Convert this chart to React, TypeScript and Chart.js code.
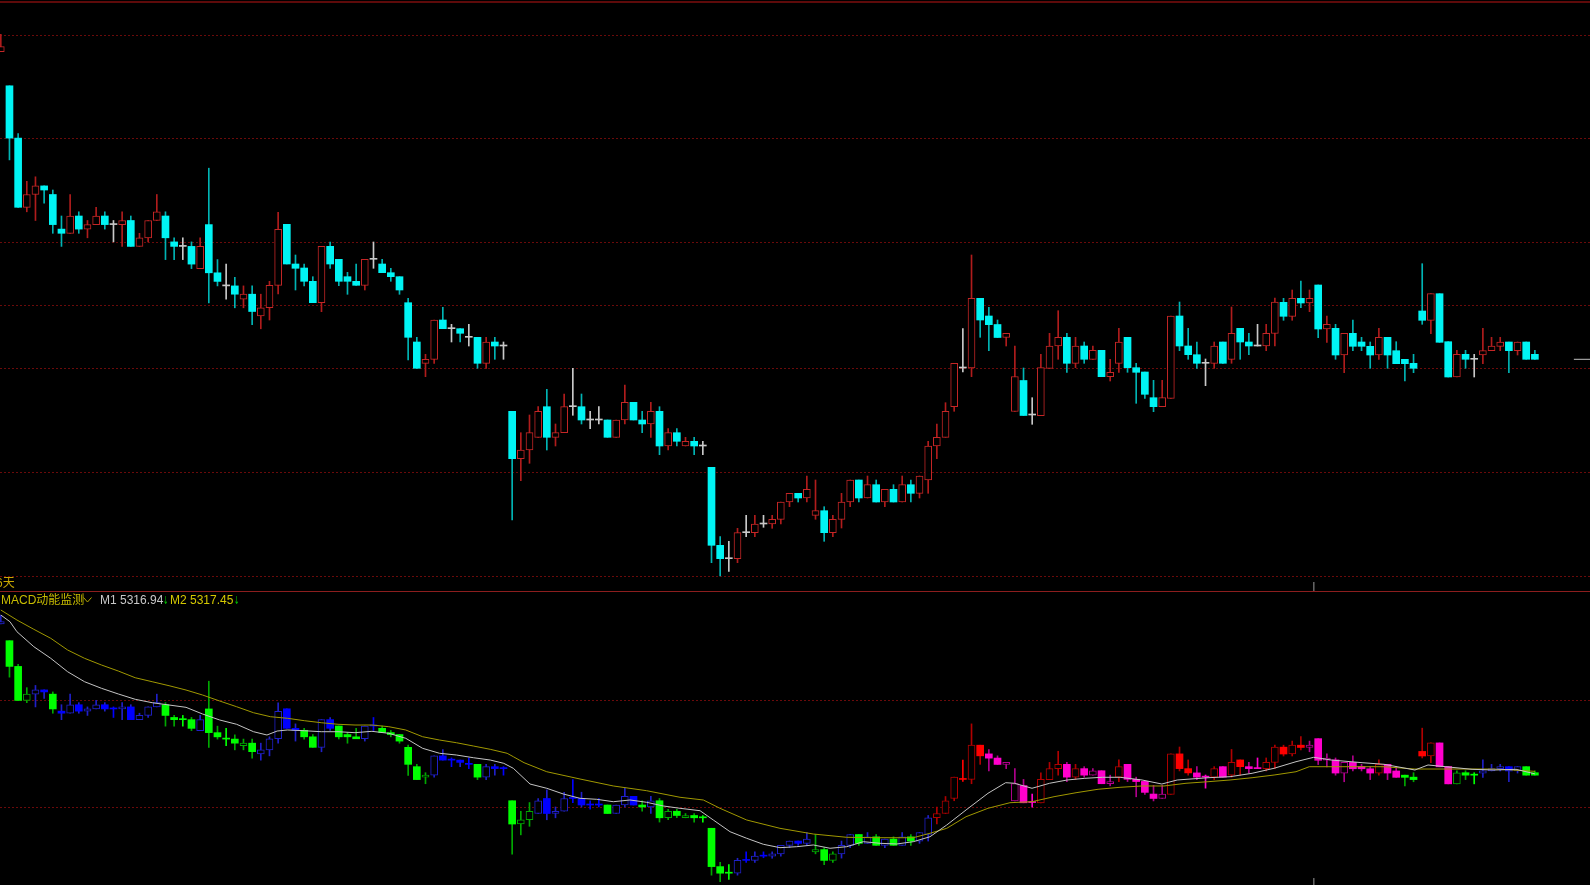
import React, { useEffect, useRef } from "react";
import { Chart, registerables } from "chart.js";

Chart.register(...registerables);

// ---- Candle data (one entry per bar) ----
const opens = [
  5347.43, 5344.02, 5338.79, 5331.87, 5333.15, 5334.01, 5333.15, 5329.69, 5329.27, 5331.0,
  5329.69, 5330.14, 5331.0, 5330.14, 5330.14, 5330.55, 5327.96, 5328.82, 5330.55, 5331.0,
  5328.41, 5327.96, 5327.96, 5325.74, 5330.14, 5325.32, 5324.01, 5324.01, 5322.69, 5323.18,
  5321.0, 5321.83, 5324.07, 5330.17, 5326.2, 5325.8, 5324.47, 5322.33, 5327.97, 5326.67,
  5324.93, 5324.47, 5324.07, 5326.67, 5326.2, 5325.33, 5324.93, 5322.33, 5318.4, 5316.27,
  5316.67, 5320.6, 5319.73, 5319.73, 5318.87, 5318.87, 5316.27, 5318.4, 5318.0, 5311.47,
  5306.73, 5307.6, 5308.87, 5311.93, 5308.87, 5309.33, 5311.93, 5311.93, 5310.6, 5310.6,
  5310.6, 5308.87, 5310.6, 5312.37, 5310.6, 5310.2, 5311.47, 5308.0, 5309.33, 5308.0,
  5308.47, 5308.0, 5305.87, 5298.07, 5296.73, 5296.73, 5299.33, 5299.33, 5300.2, 5300.2,
  5300.67, 5302.4, 5303.27, 5302.8, 5301.07, 5301.53, 5299.33, 5300.67, 5302.4, 5304.6,
  5302.8, 5304.13, 5302.4, 5303.67, 5302.4, 5304.13, 5303.27, 5304.6, 5308.0, 5308.87,
  5311.93, 5315.8, 5315.8, 5322.77, 5321.0, 5320.15, 5318.85, 5311.45, 5314.55, 5311.1,
  5311.03, 5315.77, 5318.0, 5318.87, 5316.27, 5318.0, 5316.67, 5317.57, 5314.93, 5316.27,
  5318.87, 5315.83, 5315.4, 5312.83, 5311.93, 5312.77, 5321.0, 5318.0, 5317.13, 5316.27,
  5316.27, 5318.4, 5316.67, 5319.77, 5318.4, 5318.0, 5318.0, 5319.25, 5322.37, 5320.97,
  5322.77, 5322.3, 5324.1, 5319.7, 5319.77, 5317.1, 5319.27, 5318.4, 5317.97, 5317.1,
  5318.87, 5317.53, 5316.67, 5316.27, 5321.5, 5320.57, 5323.23, 5318.43, 5314.9, 5317.17,
  5316.67, 5317.1, 5317.53, 5317.97, 5318.4, 5317.53, 5318.4, 5317.17,
];
const highs = [
  5349.17, 5344.02, 5339.24, 5334.47, 5334.92, 5334.01, 5333.6, 5331.0, 5333.15, 5331.42,
  5330.55, 5331.87, 5331.42, 5330.55, 5331.42, 5331.0, 5329.27, 5330.55, 5333.15, 5331.42,
  5328.82, 5328.82, 5328.41, 5328.82, 5335.78, 5326.64, 5326.19, 5324.87, 5324.01, 5324.01,
  5323.18, 5324.47, 5331.37, 5330.17, 5327.1, 5326.2, 5324.93, 5327.97, 5328.4, 5326.67,
  5325.37, 5326.2, 5326.67, 5328.4, 5326.67, 5325.77, 5324.93, 5322.77, 5318.87, 5317.17,
  5320.6, 5321.87, 5320.17, 5319.73, 5320.17, 5318.87, 5318.87, 5318.87, 5318.4, 5311.47,
  5309.33, 5311.1, 5311.93, 5313.67, 5310.2, 5313.2, 5315.77, 5313.2, 5311.47, 5311.93,
  5310.6, 5310.6, 5314.1, 5312.37, 5311.47, 5312.37, 5311.93, 5309.73, 5309.73, 5308.87,
  5308.87, 5308.47, 5305.87, 5298.93, 5298.47, 5299.77, 5301.07, 5301.07, 5301.07, 5301.07,
  5302.4, 5303.27, 5303.27, 5305.0, 5304.6, 5301.93, 5301.07, 5303.27, 5304.6, 5304.6,
  5305.0, 5304.6, 5303.67, 5304.13, 5305.0, 5304.6, 5305.0, 5308.47, 5310.2, 5312.33,
  5316.27, 5319.73, 5327.1, 5322.77, 5321.87, 5320.6, 5319.27, 5318.0, 5315.8, 5312.83,
  5317.17, 5319.27, 5321.53, 5319.27, 5318.87, 5318.4, 5318.0, 5317.57, 5316.67, 5319.77,
  5318.87, 5316.27, 5315.4, 5314.57, 5314.57, 5321.0, 5322.4, 5319.77, 5318.4, 5316.7,
  5318.4, 5318.4, 5321.9, 5319.77, 5319.27, 5320.17, 5320.17, 5322.78, 5322.77, 5323.6,
  5324.5, 5323.6, 5324.1, 5321.0, 5320.17, 5319.27, 5320.6, 5318.87, 5318.4, 5319.77,
  5318.87, 5318.43, 5316.67, 5317.17, 5326.23, 5323.23, 5323.23, 5318.43, 5317.57, 5317.57,
  5317.17, 5319.77, 5318.87, 5318.87, 5318.4, 5318.4, 5318.4, 5317.57,
];
const lows = [
  5347.43, 5336.61, 5331.87, 5331.42, 5330.55, 5332.28, 5329.27, 5327.96, 5329.27, 5329.27,
  5328.82, 5330.14, 5329.69, 5328.41, 5327.96, 5327.96, 5327.96, 5328.41, 5330.55, 5326.64,
  5326.64, 5326.64, 5325.74, 5325.74, 5322.31, 5324.01, 5322.69, 5321.82, 5321.82, 5320.13,
  5319.72, 5320.6, 5323.2, 5326.2, 5323.6, 5324.0, 5322.33, 5321.43, 5325.77, 5324.03,
  5323.17, 5324.07, 5323.6, 5325.77, 5325.33, 5324.47, 5323.17, 5316.6, 5315.77, 5314.93,
  5316.27, 5319.73, 5318.4, 5318.4, 5318.0, 5315.77, 5315.77, 5316.67, 5316.67, 5300.6,
  5304.53, 5306.27, 5308.87, 5307.6, 5308.0, 5309.33, 5311.07, 5310.2, 5309.73, 5310.2,
  5308.87, 5308.87, 5310.2, 5310.6, 5309.33, 5308.87, 5307.13, 5307.6, 5308.0, 5308.0,
  5307.13, 5307.13, 5296.33, 5295.0, 5295.47, 5296.33, 5298.93, 5298.93, 5299.87, 5299.77,
  5300.2, 5301.93, 5302.4, 5302.4, 5300.67, 5298.47, 5298.93, 5299.8, 5301.93, 5302.4,
  5302.8, 5302.4, 5301.93, 5302.4, 5302.4, 5302.4, 5302.8, 5303.27, 5306.73, 5308.87,
  5311.47, 5315.4, 5314.93, 5318.87, 5317.53, 5318.85, 5318.0, 5311.45, 5311.05, 5310.17,
  5311.03, 5315.77, 5316.67, 5315.37, 5315.83, 5316.27, 5316.67, 5314.93, 5314.5, 5315.37,
  5315.37, 5312.27, 5312.77, 5311.43, 5311.93, 5312.77, 5317.53, 5316.67, 5315.77, 5314.03,
  5315.77, 5316.27, 5316.27, 5316.67, 5317.13, 5318.0, 5317.53, 5318.0, 5320.57, 5320.57,
  5321.83, 5321.43, 5318.83, 5318.37, 5316.67, 5315.33, 5317.53, 5317.53, 5315.77, 5316.67,
  5315.77, 5316.23, 5314.5, 5315.33, 5320.17, 5319.23, 5318.37, 5314.9, 5314.9, 5315.77,
  5314.9, 5316.23, 5317.53, 5317.53, 5315.33, 5317.1, 5316.67, 5316.67,
];
const closes = [
  5347.93, 5338.79, 5331.87, 5333.15, 5334.01, 5333.6, 5330.14, 5329.27, 5331.0, 5329.69,
  5330.14, 5331.0, 5330.14, 5330.14, 5330.55, 5327.96, 5328.82, 5330.55, 5331.42, 5328.82,
  5327.96, 5327.96, 5326.19, 5327.96, 5325.32, 5324.46, 5324.01, 5323.18, 5323.18, 5321.45,
  5321.82, 5324.07, 5329.67, 5326.2, 5325.77, 5324.47, 5322.33, 5327.97, 5326.2, 5324.47,
  5324.47, 5324.07, 5326.67, 5326.67, 5325.33, 5324.93, 5323.6, 5318.87, 5315.77, 5316.67,
  5320.6, 5319.73, 5319.73, 5319.27, 5318.87, 5316.27, 5318.4, 5318.0, 5318.0, 5306.73,
  5307.6, 5309.33, 5311.47, 5308.87, 5309.33, 5311.93, 5311.93, 5310.6, 5310.6, 5310.6,
  5308.87, 5310.6, 5312.37, 5310.6, 5310.2, 5311.47, 5308.0, 5309.33, 5308.47, 5308.47,
  5308.0, 5308.0, 5298.07, 5296.73, 5296.73, 5299.33, 5299.33, 5300.2, 5300.2, 5300.67,
  5302.4, 5303.27, 5302.8, 5303.67, 5301.53, 5299.33, 5300.67, 5302.4, 5304.6, 5302.8,
  5304.13, 5302.4, 5303.67, 5302.4, 5304.13, 5303.27, 5305.0, 5308.0, 5308.87, 5311.47,
  5316.27, 5315.8, 5322.77, 5320.6, 5320.13, 5318.85, 5319.27, 5314.95, 5311.05, 5311.1,
  5315.83, 5318.0, 5318.87, 5316.27, 5318.0, 5316.67, 5317.57, 5314.93, 5315.37, 5318.4,
  5315.83, 5315.37, 5313.17, 5311.93, 5312.83, 5321.0, 5318.0, 5317.13, 5316.27, 5316.27,
  5318.0, 5316.27, 5319.27, 5318.4, 5318.0, 5318.0, 5319.27, 5322.38, 5320.97, 5322.77,
  5322.3, 5322.77, 5319.7, 5320.17, 5317.1, 5319.27, 5317.97, 5317.97, 5317.1, 5318.87,
  5317.1, 5316.23, 5316.23, 5315.77, 5320.57, 5323.23, 5318.37, 5314.9, 5317.17, 5316.67,
  5316.67, 5317.53, 5318.0, 5318.4, 5317.53, 5318.4, 5316.67, 5316.67,
];

// MACD momentum state per bar (G green, B blue, R red, M magenta)
const macdStateGroups = [
  "BGGGBBGBBB", "BBBBBBBBBG", "GGGBGGGGGG", "BBBBBGGBBG", "GGBBGGGGGG",
  "BBBBBGBBBG", "GGBBBBBBBB", "GBBBGBGGGG", "GGGGGBBBBB", "BBBBGGGBBG",
  "BGBGBGBBRR", "RRRRMMMMMM", "RRRMRMMMMR", "MMMMMRRRMM", "RMRRMMRRRR",
  "RMMMMMMMMR", "MMGGRRMMGG", "GBBBBBGG",
];
const macdState = macdStateGroups.join("").split("");

// M1 / M2 lines: [bar position, value]
const m1Points: [number, number][] = [
  [0, 5349.24], [1.06, 5347.88], [1.86, 5345.85], [3.81, 5342.8], [5.76, 5340.44],
  [7.71, 5337.71], [9.66, 5335.68], [11.61, 5334.34], [13.56, 5333.18], [15.51, 5332.1],
  [17.46, 5331.41], [19.41, 5330.94], [21.37, 5330.47], [23.28, 5329.11], [25.26, 5327.89],
  [27.21, 5327.02], [29.16, 5325.51], [30.71, 5324.84], [31.89, 5325.65], [33.07, 5325.86],
  [35.02, 5325.71], [36.97, 5325.51], [38.91, 5325.51], [40.87, 5325.31], [42.82, 5325.59],
  [44.77, 5325.18], [46.72, 5324.17], [48.67, 5322.13], [50.62, 5321.12], [52.57, 5320.77],
  [54.52, 5320.22], [56.47, 5319.75], [58.03, 5319.08], [59.13, 5318.07], [61.06, 5314.87],
  [62.99, 5314.0], [64.9, 5312.84], [66.83, 5311.96], [68.76, 5311.76], [70.67, 5311.27],
  [72.6, 5311.62], [74.52, 5311.15], [76.44, 5310.4], [78.37, 5309.93], [80.68, 5309.44],
  [82.21, 5307.55], [84.14, 5305.17], [86.06, 5303.83], [87.98, 5302.61], [89.9, 5301.92],
  [91.83, 5302.12], [93.75, 5302.47], [95.68, 5301.8], [97.6, 5302.12], [99.52, 5303.14],
  [101.44, 5302.81], [103.37, 5302.67], [105.29, 5303.14], [107.21, 5304.15], [109.14, 5306.53],
  [111.37, 5309.59], [113.9, 5312.98], [115.94, 5315.14], [116.95, 5315.02], [118.98, 5314.0],
  [121.01, 5315.02], [123.04, 5315.69], [125.07, 5316.03], [127.1, 5316.24], [129.14, 5316.24],
  [131.68, 5315.69], [133.96, 5314.87], [135.73, 5315.69], [139.29, 5316.15], [141.83, 5316.36],
  [144.37, 5317.05], [146.91, 5318.07], [149.44, 5319.41], [151.47, 5320.3], [153.5, 5319.75],
  [157.06, 5319.21], [159.6, 5318.88], [163.16, 5317.72], [164.67, 5318.74], [166.71, 5318.39],
  [169.75, 5317.86], [172.29, 5317.72], [174.83, 5317.86], [177, 5316.94],
];
const m2Points: [number, number][] = [
  [0, 5350.26], [1.86, 5348.23], [3.81, 5346.34], [5.76, 5344.51], [7.71, 5342.13],
  [9.66, 5340.44], [11.61, 5339.08], [13.56, 5337.85], [15.51, 5336.49], [17.46, 5335.68],
  [19.41, 5334.87], [21.37, 5333.99], [23.28, 5332.97], [25.26, 5331.75], [27.21, 5330.59],
  [29.16, 5329.37], [31.11, 5328.56], [33.07, 5328.24], [35.02, 5327.75], [36.97, 5327.34],
  [38.91, 5327.02], [40.87, 5326.87], [42.82, 5326.87], [44.77, 5326.53], [46.72, 5325.86],
  [48.67, 5324.49], [50.62, 5323.82], [52.57, 5323.27], [54.52, 5322.6], [56.47, 5321.93],
  [58.42, 5321.12], [59.13, 5320.43], [60.37, 5319.21], [62.99, 5317.37], [66.83, 5315.89],
  [70.67, 5314.47], [74.52, 5313.51], [78.37, 5312.17], [81.06, 5311.62], [82.98, 5309.93],
  [86.06, 5307.55], [89.9, 5305.86], [93.75, 5304.7], [97.6, 5304.03], [101.44, 5303.95],
  [105.28, 5303.95], [107.21, 5304.85], [109.14, 5305.86], [111.37, 5308.22], [113.9, 5309.93],
  [116.44, 5311.07], [118.98, 5311.27], [121.52, 5312.29], [124.06, 5313.1], [126.6, 5313.8],
  [129.14, 5314.2], [131.68, 5314.47], [134.21, 5314.47], [136.75, 5315.02], [139.29, 5315.34],
  [141.83, 5315.69], [144.37, 5316.15], [146.91, 5316.7], [149.44, 5317.37], [150.97, 5318.39],
  [154.52, 5318.39], [159.6, 5318.39], [163.16, 5317.92], [167.21, 5317.92], [172.29, 5317.92],
  [177, 5317.45],
];

// Axis ranges and reference levels
const xRange = { min: -0.0923, max: 183.36 };
const topRange = { min: 5293.5, max: 5352.6 };
const bottomRange = { min: 5294.33, max: 5354.13 };
const topGridLevels = [5349.1, 5338.8, 5328.45, 5322.07, 5315.77, 5305.37, 5295.0];
const bottomGridLevels = [5331.96, 5310.26];
const lastPriceSpan = [181.5, 183.4];
const cursorBar = 151.5;
const topCursorSpan = [5293.5, 5294.4];
const bottomCursorSpan = [5294.33, 5295.75];

const M1_LABEL = "M1 5316.94";
const M2_LABEL = "M2 5317.45";

const W = 1590;
const TOP_H = 591;
const BOT_H = 294;

const barIdx = opens.map((_, i) => i);
const dirOf = (i: number) => (closes[i] > opens[i] ? 1 : closes[i] < opens[i] ? -1 : 0);

const dashGrid = {
  id: "dashGrid",
  beforeDatasetsDraw(chart: any, _a: any, opts: any) {
    const { ctx, chartArea, scales } = chart;
    ctx.save();
    ctx.strokeStyle = opts.color;
    ctx.lineWidth = 1;
    ctx.setLineDash([2, 2]);
    (opts.levels || []).forEach((v: number) => {
      const y = Math.round(scales.y.getPixelForValue(v)) + 0.5;
      ctx.beginPath();
      ctx.moveTo(chartArea.left, y);
      ctx.lineTo(chartArea.right, y);
      ctx.stroke();
    });
    ctx.restore();
  },
};

function candleSets(bodyBg: string[], bodyBorder: string[], bodyBw: number[], wick: string[]) {
  return [
    {
      type: "bar",
      label: "body",
      data: barIdx.map((i) => ({ x: i, y: [Math.min(opens[i], closes[i]), Math.max(opens[i], closes[i])] })),
      backgroundColor: bodyBg,
      borderColor: bodyBorder,
      borderWidth: bodyBw,
      borderSkipped: false,
      barThickness: 7,
      minBarLength: 1,
      grouped: false,
      order: 1,
    },
    {
      type: "bar",
      label: "wick",
      data: barIdx.map((i) => ({ x: i, y: [lows[i], highs[i]] })),
      backgroundColor: wick,
      borderWidth: 0,
      barThickness: 1,
      grouped: false,
      order: 2,
    },
  ];
}

function baseOptions(range: { min: number; max: number }, levels: number[]) {
  return {
    responsive: false,
    maintainAspectRatio: false,
    animation: false,
    devicePixelRatio: 1,
    events: [],
    layout: { padding: 0 },
    plugins: {
      legend: { display: false },
      tooltip: { enabled: false },
      dashGrid: { levels, color: "#6a0a0a" },
    },
    scales: {
      x: { type: "linear", min: xRange.min, max: xRange.max, display: false, offset: false },
      y: { type: "linear", min: range.min, max: range.max, display: false },
    },
  };
}

function markLine(label: string, xs: number[], ys: number[], color: string) {
  return {
    type: "line",
    label,
    data: xs.map((x, i) => ({ x, y: ys[i] })),
    borderColor: color,
    borderWidth: 1,
    pointRadius: 0,
    order: 0,
  };
}

const stateFill: Record<string, string> = { G: "#00ff00", B: "#0000ff", R: "#ff0000", M: "#ff00cc" };
const stateLine: Record<string, string> = { G: "#00a800", B: "#2020c8", R: "#b00000", M: "#b0008c" };

export default function App() {
  const topRef = useRef<HTMLCanvasElement>(null);
  const botRef = useRef<HTMLCanvasElement>(null);

  useEffect(() => {
    document.body.style.margin = "0";
    document.body.style.background = "#000";

    const topBg = barIdx.map((i) => (dirOf(i) > 0 ? "#000000" : dirOf(i) < 0 ? "#00f4f4" : "#c8c8c8"));
    const topBorder = barIdx.map((i) => (dirOf(i) > 0 ? "#c42626" : dirOf(i) < 0 ? "#00f4f4" : "#c8c8c8"));
    const topBw = barIdx.map((i) => (dirOf(i) > 0 ? 1 : 0));
    const topWick = barIdx.map((i) => (dirOf(i) > 0 ? "#b01c1c" : dirOf(i) < 0 ? "#00b4b4" : "#c8c8c8"));

    const lastClose = closes[closes.length - 1];

    const top = new Chart(topRef.current as HTMLCanvasElement, {
      type: "bar",
      data: {
        datasets: [
          markLine("last", lastPriceSpan, [lastClose, lastClose], "#c0c0c0"),
          markLine("cursor", [cursorBar, cursorBar], topCursorSpan, "#9a9a9a"),
          ...candleSets(topBg, topBorder, topBw, topWick),
        ] as any,
      },
      options: baseOptions(topRange, topGridLevels) as any,
      plugins: [dashGrid],
    });

    const botBg = barIdx.map((i) => (dirOf(i) > 0 ? "#000000" : stateFill[macdState[i]]));
    const botBorder = barIdx.map((i) => (dirOf(i) > 0 ? stateLine[macdState[i]] : stateFill[macdState[i]]));
    const botBw = barIdx.map((i) => (dirOf(i) > 0 ? 1 : 0));
    const botWick = barIdx.map((i) => (dirOf(i) === 0 ? stateFill[macdState[i]] : stateLine[macdState[i]]));

    const bottom = new Chart(botRef.current as HTMLCanvasElement, {
      type: "bar",
      data: {
        datasets: [
          {
            type: "line",
            label: "M1",
            data: m1Points.map(([x, y]) => ({ x, y })),
            borderColor: "#c4c4c4",
            borderWidth: 1,
            pointRadius: 0,
            tension: 0,
            order: 0,
          },
          {
            type: "line",
            label: "M2",
            data: m2Points.map(([x, y]) => ({ x, y })),
            borderColor: "#a09800",
            borderWidth: 1,
            pointRadius: 0,
            tension: 0,
            order: 0,
          },
          markLine("cursor", [cursorBar, cursorBar], bottomCursorSpan, "#9a9a9a"),
          ...candleSets(botBg, botBorder, botBw, botWick),
        ] as any,
      },
      options: baseOptions(bottomRange, bottomGridLevels) as any,
      plugins: [dashGrid],
    });

    return () => {
      top.destroy();
      bottom.destroy();
    };
  }, []);

  const latin = '"Liberation Sans", "Noto Sans CJK SC", sans-serif';

  return (
    <div style={{ position: "fixed", left: 0, top: 0, width: W, height: 885, background: "#000", overflow: "hidden" }}>
      <canvas ref={topRef} width={W} height={TOP_H} style={{ position: "absolute", left: 0, top: 0, width: W, height: TOP_H }} />
      <canvas ref={botRef} width={W} height={BOT_H} style={{ position: "absolute", left: 0, top: TOP_H, width: W, height: BOT_H }} />
      <div style={{ position: "absolute", left: 0, top: 1, width: W, height: 2, background: "#5e0a0a" }} />
      <div style={{ position: "absolute", left: 0, top: 591, width: W, height: 1, background: "#8c1e1e" }} />
      <div style={{ position: "absolute", left: -4, top: 575, font: `12px ${latin}`, lineHeight: "16px", color: "#c8a800", whiteSpace: "nowrap" }}>6天</div>
      <div style={{ position: "absolute", left: 1, top: 592, font: `12px ${latin}`, lineHeight: "16px", color: "#c8bc00", whiteSpace: "nowrap" }}>MACD动能监测</div>
      <svg style={{ position: "absolute", left: 83, top: 597 }} width={9} height={6}>
        <polyline points="0.5,0.5 4.5,5 8.5,0.5" fill="none" stroke="#b4a800" strokeWidth={1} />
      </svg>
      <div style={{ position: "absolute", left: 100, top: 592, font: `12px ${latin}`, lineHeight: "16px", color: "#c8c8c8", whiteSpace: "nowrap" }}>{M1_LABEL}</div>
      <div style={{ position: "absolute", left: 163, top: 593, font: `11px "DejaVu Sans", sans-serif`, lineHeight: "16px", color: "#00c000", whiteSpace: "nowrap", transform: "scaleX(0.6)", transformOrigin: "left" }}>↓</div>
      <div style={{ position: "absolute", left: 170, top: 592, font: `12px ${latin}`, lineHeight: "16px", color: "#d4c800", whiteSpace: "nowrap" }}>{M2_LABEL}</div>
      <div style={{ position: "absolute", left: 234, top: 593, font: `11px "DejaVu Sans", sans-serif`, lineHeight: "16px", color: "#00c000", whiteSpace: "nowrap", transform: "scaleX(0.6)", transformOrigin: "left" }}>↓</div>
    </div>
  );
}
